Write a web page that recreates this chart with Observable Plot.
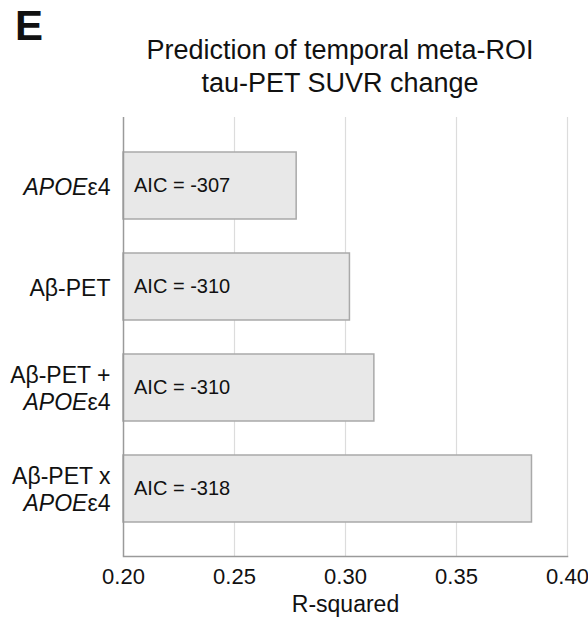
<!DOCTYPE html>
<html>
<head>
<meta charset="utf-8">
<script src="https://cdn.jsdelivr.net/npm/d3@7"></script>
<script src="https://cdn.jsdelivr.net/npm/@observablehq/plot@0.6"></script>
<style>
  html, body { margin: 0; padding: 0; background: #fff; }
  #wrap { position: relative; width: 588px; height: 619px; font-family: "Liberation Sans", Arial, Helvetica, sans-serif; color: #111; }
  #panel { position: absolute; left: 15px; top: 5px; font-size: 42px; line-height: 42px; font-weight: bold; }
  #title { position: absolute; left: 0; top: 34px; width: 680px; text-align: center; font-size: 27px; line-height: 33px; }
  #chart { position: absolute; left: 0; top: 0; }
</style>
</head>
<body>
<div id="wrap">
  <div id="chart"></div>
  <div id="panel">E</div>
  <div id="title">Prediction of temporal meta-ROI<br>tau-PET SUVR change</div>
</div>
<script>
const GENE = "APOE";
const categories = ["APOEε4", "Aβ-PET", "Aβ-PET + APOEε4", "Aβ-PET x APOEε4"];
const categoryLabels = ["APOEε4", "Aβ-PET", "Aβ-PET +\nAPOEε4", "Aβ-PET x\nAPOEε4"];
const rSquared = [0.278, 0.302, 0.313, 0.384];
const aic = [-307, -310, -310, -318];
const xTicks = [0.20, 0.25, 0.30, 0.35, 0.40];
const BASE = 0.20;

const data = categories.map((c, i) => ({cat: c, label: categoryLabels[i], r2: rSquared[i], aic: aic[i]}));

const font = '"Liberation Sans", Arial, Helvetica, sans-serif';

const plot = Plot.plot({
  width: 588,
  height: 619,
  marginTop: 117,
  marginBottom: 63,
  marginLeft: 123,
  marginRight: 21,
  style: {fontFamily: font, color: "#111", background: "transparent"},
  x: {domain: [0.20, 0.40], ticks: xTicks, tickFormat: d3.format(".2f")},
  y: {domain: categories, paddingInner: 0.34, paddingOuter: 0.325},
  marks: [
    Plot.gridX(xTicks.slice(1), {stroke: "#dcdcdc", strokeOpacity: 1, strokeWidth: 1.2}),
    Plot.barX(data, {x1: () => BASE, x2: "r2", y: "cat", fill: "#e8e8e8", stroke: "#a9a9a9", strokeWidth: 1.5}),
    Plot.ruleX([BASE], {stroke: "#9a9a9a", strokeWidth: 1.5}),
    Plot.frame({anchor: "bottom", stroke: "#9a9a9a", strokeWidth: 1.5}),
    Plot.text(data, {x: () => BASE, y: "cat", text: d => `AIC = ${d.aic}`, textAnchor: "start", dx: 10.5, fontSize: 20, fill: "#111"}),
    Plot.text(data, {x: () => BASE, y: "cat", text: "label", textAnchor: "end", dx: -13, fontSize: 23, lineHeight: 1.16, fill: "#111"}),
    Plot.axisX({ticks: xTicks, tickFormat: d3.format(".2f"), tickSize: 0, tickPadding: 12, fontSize: 22, label: null}),
    Plot.axisX({ticks: [], tickSize: 0, fontSize: 23, label: "R-squared", labelAnchor: "center", labelArrow: "none", labelOffset: 55}),
    Plot.axisY({ticks: [], label: null})
  ]
});

// italicize the gene name inside category labels
(function italicize(svg) {
  const walker = document.createTreeWalker(svg, NodeFilter.SHOW_TEXT);
  const nodes = [];
  while (walker.nextNode()) if (walker.currentNode.data.includes(GENE)) nodes.push(walker.currentNode);
  for (const n of nodes) {
    const parts = n.data.split(GENE);
    const frag = document.createDocumentFragment();
    parts.forEach((p, i) => {
      if (i > 0) {
        const t = document.createElementNS("http://www.w3.org/2000/svg", "tspan");
        t.setAttribute("font-style", "italic");
        t.textContent = GENE;
        frag.appendChild(t);
      }
      if (p) frag.appendChild(document.createTextNode(p));
    });
    n.parentNode.replaceChild(frag, n);
  }
})(plot);

document.getElementById("chart").appendChild(plot);
</script>
</body>
</html>
